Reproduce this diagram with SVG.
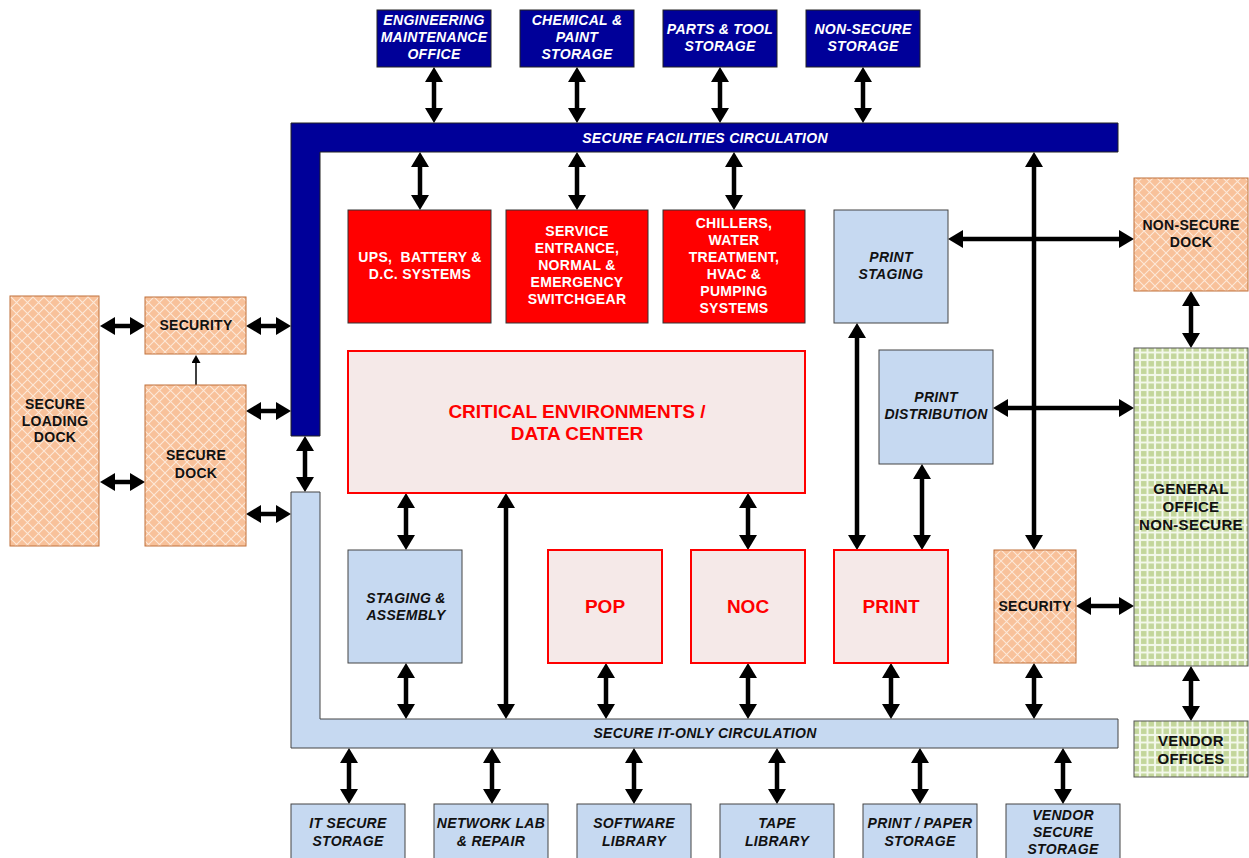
<svg xmlns="http://www.w3.org/2000/svg" width="1249" height="858" viewBox="0 0 1249 858">
<style>
.t{font-family:"Liberation Sans",Arial,sans-serif;font-weight:bold;font-size:14px;letter-spacing:0.3px;text-anchor:middle}
.wi{fill:#fff;font-style:italic}
.w{fill:#fff}
.bi{fill:#111;font-style:italic}
.b{fill:#111}
.r{fill:#ff0000;font-size:19px;letter-spacing:0}
.navy{fill:#000099;stroke:#222;stroke-width:1}
.red{fill:#ff0000;stroke:#333;stroke-width:1}
.lb{fill:#c6d9f1;stroke:#444;stroke-width:1}
.pk{fill:#f5e9e8;stroke:#ff0000;stroke-width:2}
.or{fill:url(#hatch);stroke:#c0703a;stroke-width:1}
.gr{fill:url(#grid);stroke:#555;stroke-width:1}
.a{stroke:#000;stroke-width:4.5;fill:none;marker-start:url(#ah);marker-end:url(#ah)}
</style>
<defs>
<pattern id="hatch" patternUnits="userSpaceOnUse" width="11" height="11">
<rect width="11" height="11" fill="#f8c19a"/>
<path d="M0,0 L11,11 M11,0 L0,11" stroke="#fde8d8" stroke-width="1.1"/>
</pattern>
<pattern id="grid" patternUnits="userSpaceOnUse" width="7.5" height="7.5">
<rect width="7.5" height="7.5" fill="#f3f8ea"/>
<rect x="1" y="1" width="5.5" height="5.5" fill="#c3d69b"/>
</pattern>
<marker id="ah" markerUnits="userSpaceOnUse" markerWidth="15" markerHeight="18" viewBox="0 0 15 18" refX="1" refY="9" orient="auto-start-reverse">
<path d="M0,0 L15,9 L0,18 z" fill="#000"/>
</marker>
<marker id="ahs" markerUnits="userSpaceOnUse" markerWidth="8" markerHeight="9" viewBox="0 0 8 9" refX="1" refY="4.5" orient="auto">
<path d="M0,0 L8,4.5 L0,9 z" fill="#000"/>
</marker>
</defs>

<g id="connectors">
<line class="a" x1="434" y1="81" x2="434" y2="109"/>
<line class="a" x1="577" y1="81" x2="577" y2="109"/>
<line class="a" x1="720" y1="81" x2="720" y2="109"/>
<line class="a" x1="863" y1="81" x2="863" y2="109"/>
<line class="a" x1="420" y1="166" x2="420" y2="196"/>
<line class="a" x1="577" y1="166" x2="577" y2="196"/>
<line class="a" x1="734" y1="166" x2="734" y2="196"/>
<line class="a" x1="1034" y1="166" x2="1034" y2="536"/>
<line class="a" x1="962" y1="239" x2="1120" y2="239"/>
<line class="a" x1="1007" y1="408" x2="1120" y2="408"/>
<line class="a" x1="857" y1="337" x2="857" y2="536"/>
<line class="a" x1="922" y1="478" x2="922" y2="536"/>
<line class="a" x1="406" y1="507" x2="406" y2="536"/>
<line class="a" x1="506" y1="507" x2="506" y2="705"/>
<line class="a" x1="748" y1="507" x2="748" y2="536"/>
<line class="a" x1="406" y1="677" x2="406" y2="705"/>
<line class="a" x1="606" y1="677" x2="606" y2="705"/>
<line class="a" x1="748" y1="677" x2="748" y2="705"/>
<line class="a" x1="891" y1="677" x2="891" y2="705"/>
<line class="a" x1="1034" y1="677" x2="1034" y2="705"/>
<line class="a" x1="1090" y1="606" x2="1120" y2="606"/>
<line class="a" x1="1191" y1="305" x2="1191" y2="334"/>
<line class="a" x1="1191" y1="680" x2="1191" y2="707"/>
<line class="a" x1="349" y1="762" x2="349" y2="790"/>
<line class="a" x1="492" y1="762" x2="492" y2="790"/>
<line class="a" x1="634" y1="762" x2="634" y2="790"/>
<line class="a" x1="777" y1="762" x2="777" y2="790"/>
<line class="a" x1="920" y1="762" x2="920" y2="790"/>
<line class="a" x1="1063" y1="762" x2="1063" y2="790"/>
<line class="a" x1="114" y1="326" x2="131" y2="326"/>
<line class="a" x1="260" y1="326" x2="277" y2="326"/>
<line class="a" x1="260" y1="411" x2="277" y2="411"/>
<line class="a" x1="114" y1="482" x2="131" y2="482"/>
<line class="a" x1="260" y1="514" x2="277" y2="514"/>
<line class="a" x1="305" y1="450" x2="305" y2="478"/>
<line x1="196" y1="385" x2="196" y2="362" stroke="#000" stroke-width="1.5" marker-end="url(#ahs)"/>
</g>

<g id="secure-facilities-circulation">
<polygon class="navy" points="291,123 1118,123 1118,152 320,152 320,436 291,436"/>
<text class="t wi" x="705" y="143">SECURE FACILITIES CIRCULATION</text>
</g>
<g id="secure-it-circulation">
<polygon class="lb" points="291,492 320,492 320,719 1118,719 1118,748 291,748"/>
<text class="t bi" x="705" y="738">SECURE IT-ONLY CIRCULATION</text>
</g>

<g id="eng-office"><rect class="navy" x="377" y="10" width="114" height="57"/>
<text class="t wi" x="434" y="25">ENGINEERING</text><text class="t wi" x="434" y="42">MAINTENANCE</text><text class="t wi" x="434" y="59">OFFICE</text></g>
<g id="chemical"><rect class="navy" x="520" y="10" width="114" height="57"/>
<text class="t wi" x="577" y="25">CHEMICAL &amp;</text><text class="t wi" x="577" y="42">PAINT</text><text class="t wi" x="577" y="59">STORAGE</text></g>
<g id="parts"><rect class="navy" x="663" y="10" width="114" height="57"/>
<text class="t wi" x="720" y="34">PARTS &amp; TOOL</text><text class="t wi" x="720" y="51">STORAGE</text></g>
<g id="nonsecure-storage"><rect class="navy" x="806" y="10" width="114" height="57"/>
<text class="t wi" x="863" y="34">NON-SECURE</text><text class="t wi" x="863" y="51">STORAGE</text></g>

<g id="ups"><rect class="red" x="348" y="210" width="143" height="113"/>
<text class="t w" x="420" y="262" xml:space="preserve">UPS,  BATTERY &amp;</text><text class="t w" x="420" y="279">D.C. SYSTEMS</text></g>
<g id="service"><rect class="red" x="506" y="210" width="142" height="113"/>
<text class="t w" x="577" y="236">SERVICE</text><text class="t w" x="577" y="253">ENTRANCE,</text><text class="t w" x="577" y="270">NORMAL &amp;</text><text class="t w" x="577" y="287">EMERGENCY</text><text class="t w" x="577" y="304">SWITCHGEAR</text></g>
<g id="chillers"><rect class="red" x="663" y="210" width="142" height="113"/>
<text class="t w" x="734" y="228">CHILLERS,</text><text class="t w" x="734" y="245">WATER</text><text class="t w" x="734" y="262">TREATMENT,</text><text class="t w" x="734" y="279">HVAC &amp;</text><text class="t w" x="734" y="296">PUMPING</text><text class="t w" x="734" y="313">SYSTEMS</text></g>

<g id="print-staging"><rect class="lb" x="834" y="210" width="114" height="113"/>
<text class="t bi" x="891" y="262">PRINT</text><text class="t bi" x="891" y="279">STAGING</text></g>
<g id="print-distribution"><rect class="lb" x="879" y="350" width="114" height="114"/>
<text class="t bi" x="936" y="402">PRINT</text><text class="t bi" x="936" y="419">DISTRIBUTION</text></g>

<g id="nonsecure-dock"><rect class="or" x="1134" y="178" width="114" height="113"/>
<text class="t b" x="1191" y="230">NON-SECURE</text><text class="t b" x="1191" y="247">DOCK</text></g>
<g id="general-office"><rect class="gr" x="1134" y="348" width="114" height="318"/>
<text class="t b" x="1191" y="494" style="font-size:15px">GENERAL</text><text class="t b" x="1191" y="512" style="font-size:15px">OFFICE</text><text class="t b" x="1191" y="530" style="font-size:15px">NON-SECURE</text></g>
<g id="vendor-offices"><rect class="gr" x="1134" y="721" width="114" height="56"/>
<text class="t b" x="1191" y="746" style="font-size:15px">VENDOR</text><text class="t b" x="1191" y="764" style="font-size:15px">OFFICES</text></g>

<g id="critical"><rect class="pk" x="348" y="351" width="457" height="142"/>
<text class="t r" x="577" y="418">CRITICAL ENVIRONMENTS /</text><text class="t r" x="577" y="440">DATA CENTER</text></g>

<g id="staging-assembly"><rect class="lb" x="348" y="550" width="114" height="113"/>
<text class="t bi" x="406" y="603">STAGING &amp;</text><text class="t bi" x="406" y="620">ASSEMBLY</text></g>
<g id="pop"><rect class="pk" x="548" y="550" width="114" height="113"/><text class="t r" x="605" y="613">POP</text></g>
<g id="noc"><rect class="pk" x="691" y="550" width="114" height="113"/><text class="t r" x="748" y="613">NOC</text></g>
<g id="print"><rect class="pk" x="834" y="550" width="114" height="113"/><text class="t r" x="891" y="613">PRINT</text></g>
<g id="security-right"><rect class="or" x="994" y="550" width="82" height="113"/><text class="t b" x="1035" y="611">SECURITY</text></g>

<g id="secure-loading-dock"><rect class="or" x="10" y="296" width="89" height="250"/>
<text class="t b" x="55" y="409">SECURE</text><text class="t b" x="55" y="426">LOADING</text><text class="t b" x="55" y="442">DOCK</text></g>
<g id="security-left"><rect class="or" x="145" y="297" width="101" height="57"/><text class="t b" x="196" y="330">SECURITY</text></g>
<g id="secure-dock"><rect class="or" x="145" y="385" width="101" height="161"/>
<text class="t b" x="196" y="460">SECURE</text><text class="t b" x="196" y="478">DOCK</text></g>

<g id="it-secure-storage"><rect class="lb" x="291" y="804" width="114" height="60"/>
<text class="t bi" x="348" y="828">IT SECURE</text><text class="t bi" x="348" y="846">STORAGE</text></g>
<g id="network-lab"><rect class="lb" x="434" y="804" width="114" height="60"/>
<text class="t bi" x="491" y="828">NETWORK LAB</text><text class="t bi" x="491" y="846">&amp; REPAIR</text></g>
<g id="software-library"><rect class="lb" x="577" y="804" width="114" height="60"/>
<text class="t bi" x="634" y="828">SOFTWARE</text><text class="t bi" x="634" y="846">LIBRARY</text></g>
<g id="tape-library"><rect class="lb" x="720" y="804" width="114" height="60"/>
<text class="t bi" x="777" y="828">TAPE</text><text class="t bi" x="777" y="846">LIBRARY</text></g>
<g id="print-paper"><rect class="lb" x="863" y="804" width="114" height="60"/>
<text class="t bi" x="920" y="828">PRINT / PAPER</text><text class="t bi" x="920" y="846">STORAGE</text></g>
<g id="vendor-secure-storage"><rect class="lb" x="1006" y="804" width="114" height="60"/>
<text class="t bi" x="1063" y="820">VENDOR</text><text class="t bi" x="1063" y="837">SECURE</text><text class="t bi" x="1063" y="854">STORAGE</text></g>
</svg>
